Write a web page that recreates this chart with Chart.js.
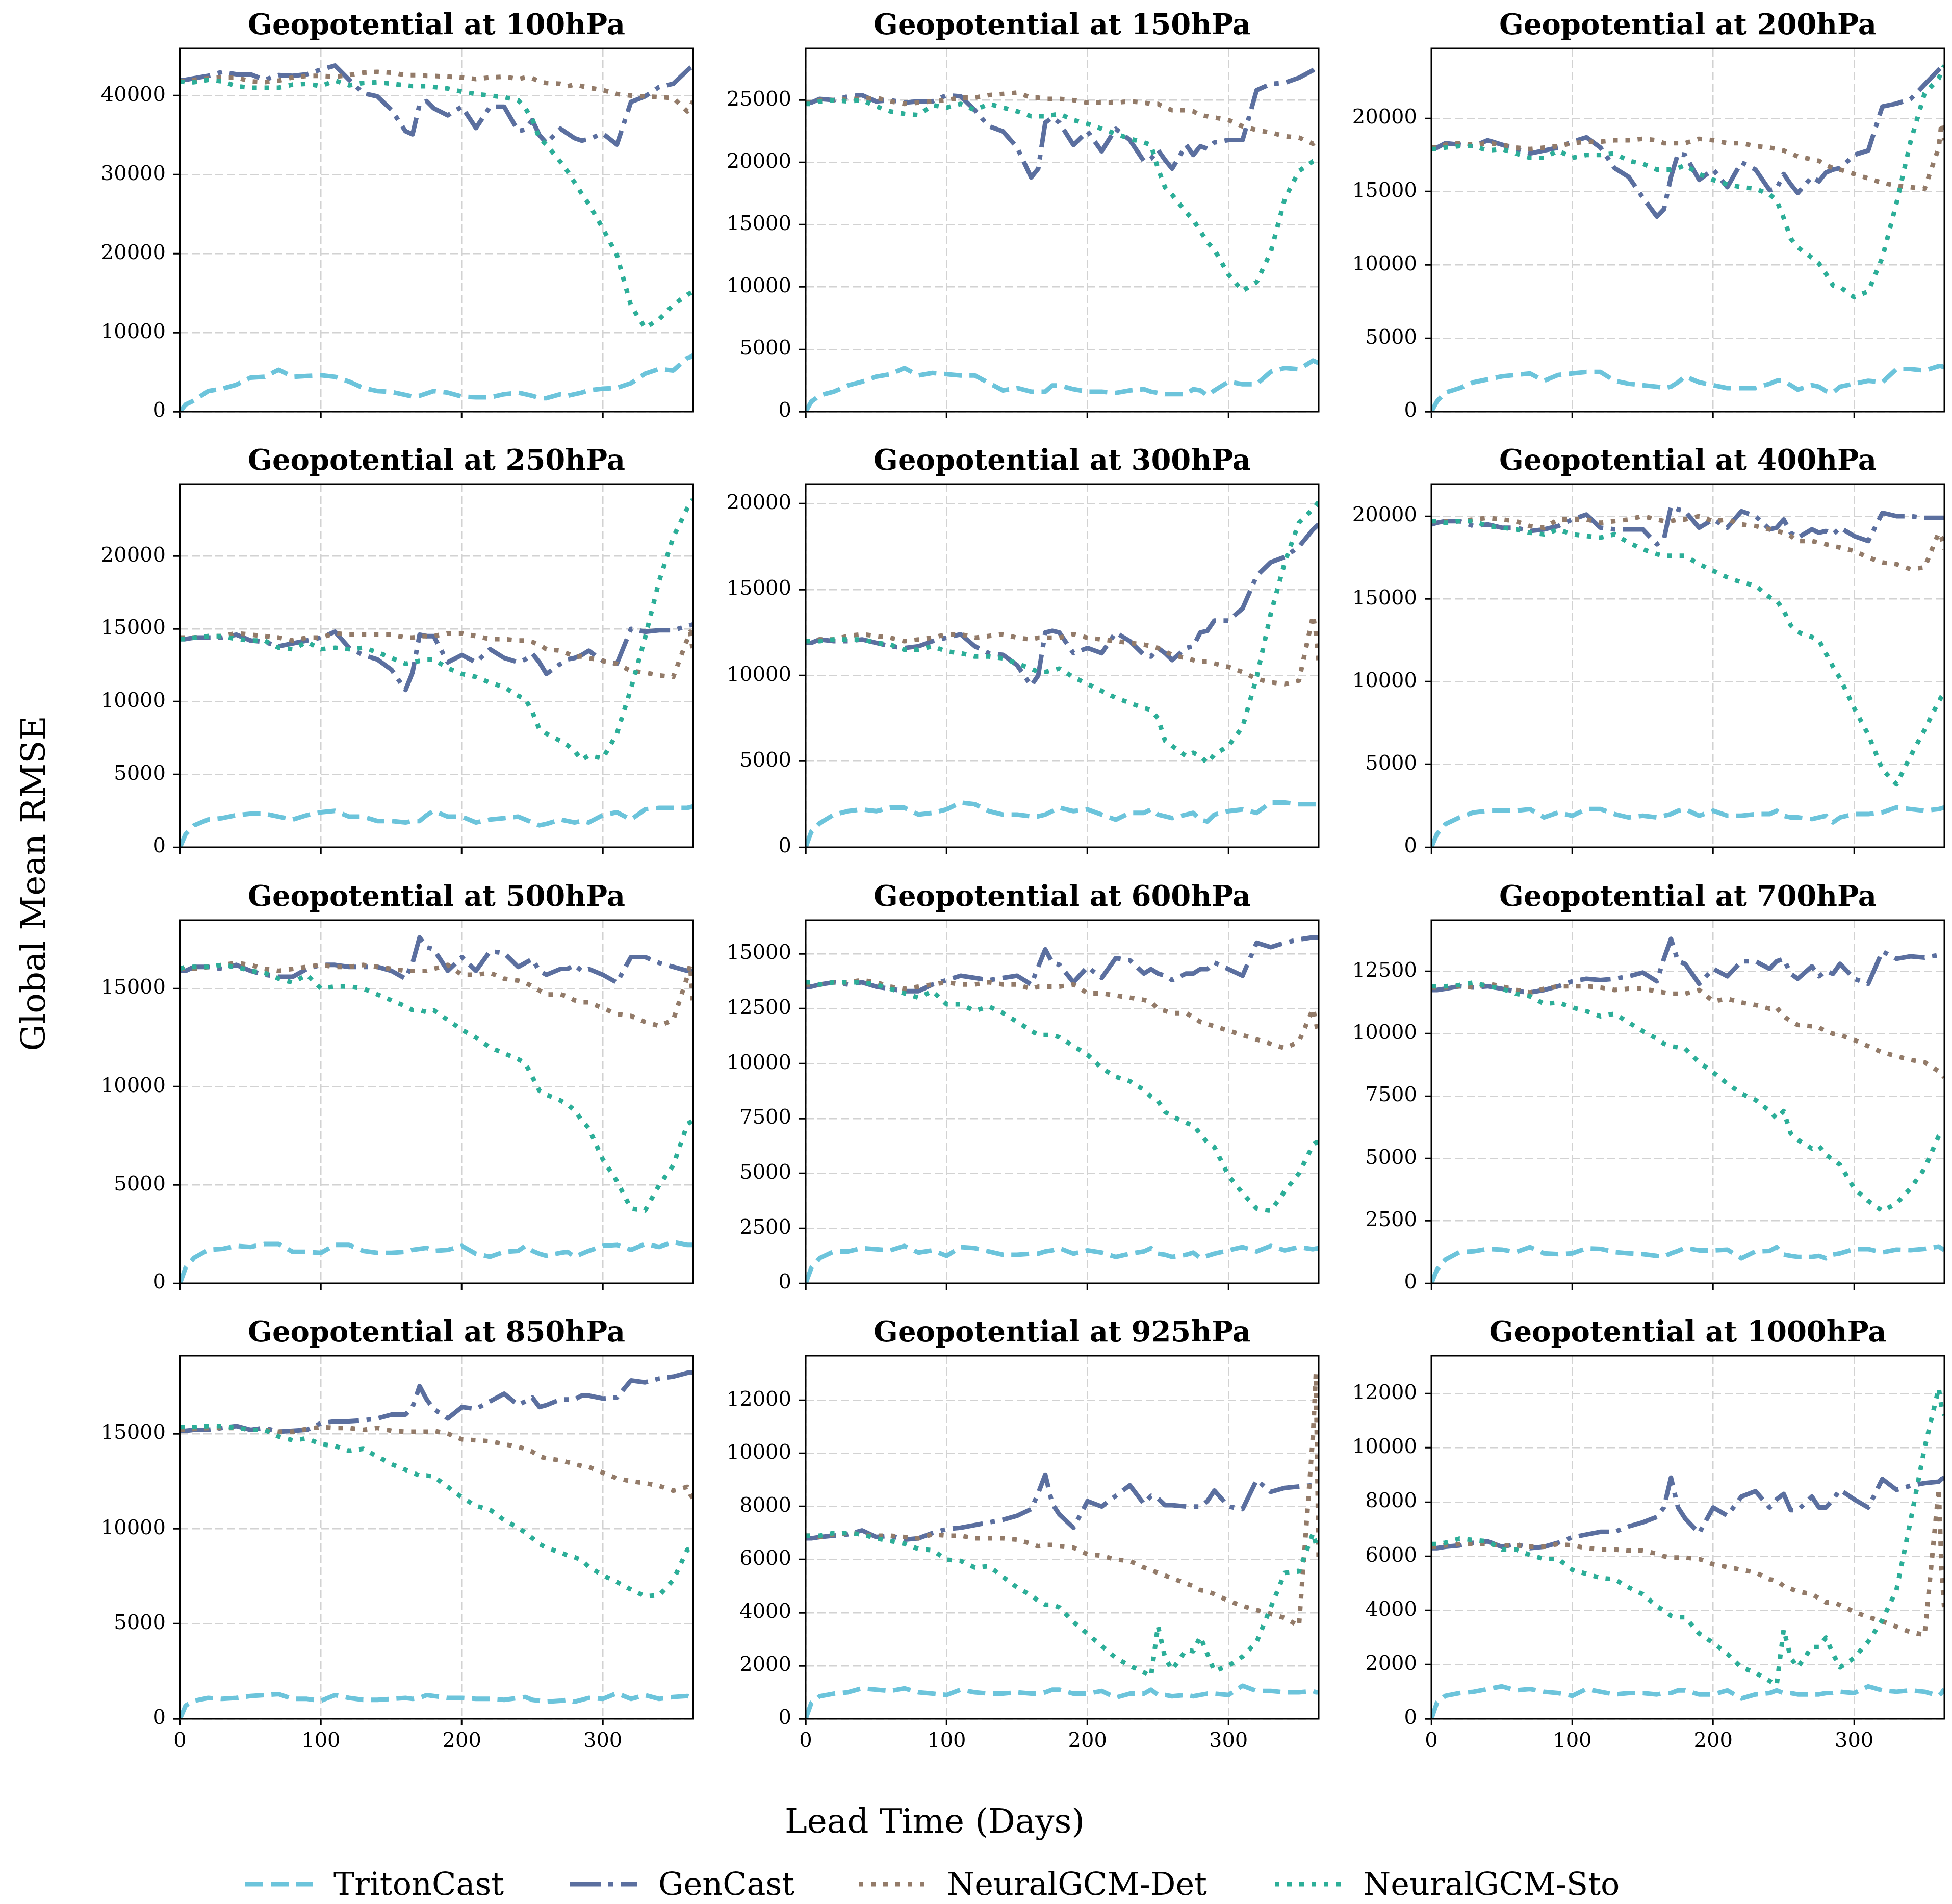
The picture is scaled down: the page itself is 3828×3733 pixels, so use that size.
<!DOCTYPE html>
<html>
<head>
<meta charset="utf-8">
<script src="https://cdn.jsdelivr.net/npm/chart.js@4.4.1/dist/chart.umd.min.js"></script>
<style>
html,body{margin:0;padding:0;background:#fff;}
#fig{position:relative;width:3828px;height:3733px;background:#fff;overflow:hidden;}
#fig canvas{position:absolute;}
.lbl{position:absolute;font-family:'DejaVu Serif',serif;color:#000;white-space:nowrap;line-height:1;}
</style>
</head>
<body>
<div id="fig"></div>
<script>
// ---------------- DATA ----------------
const DAYS = [0,4,10,20,30,40,50,60,70,80, 90,100,110,120,130,140,150,160,165,170, 175,180,190,200,210,220,230,240,245,250, 255,260,270,275,280,285,290,300,310,320, 330,340,350,360,362,364];
const LEVELS = [100,150,200,250,300,400,500,600,700,850,925,1000];
const SERIES_NAMES = ['TritonCast','GenCast','NeuralGCM-Det','NeuralGCM-Sto'];
const Y_MAX = [45970,29150,24760,24950,21150,21940,18480,16530,14550,19100,13680,13400];
const Y_STEP = [10000,5000,5000,5000,5000,5000,5000,2500,2500,5000,2000,2000];
const X_TICKS = [0,100,200,300];

// 100 hPa
const tri100 = [0,900,1400,2600,2900,3400,4300,4400,5300,4400, 4500,4600,4400,3800,3000,2600,2500,2100,1900,2000, 2300,2600,2400,1900,1800,1800,2200,2400,2200,2000, 1700,1700,2200,2000,2200,2400,2700,2900,3000,3600, 4800,5400,5200,6800,6900,7100];
const gen100 = [42000,42000,42200,42500,43000,42700,42700,42000,42600,42500, 42700,43300,43800,42000,40300,39900,38200,35500,35100,38900, 39300,38400,37500,38600,35900,38600,38600,35500,35700,36900, 35000,34000,35800,35200,34600,34300,34500,35200,33800,39200, 39900,41100,41500,43200,43500,43700];
const det100 = [41800,41900,42000,42200,42300,42300,41800,41700,41900,42300, 42500,42500,42400,42600,42900,43000,42900,42600,42600,42600, 42500,42500,42400,42300,42100,42300,42400,42100,42300,42200, 41800,41600,41500,41200,41400,41200,41000,40700,40200,40000, 39900,39800,39700,38000,38500,39300];
const sto100 = [41800,41700,41700,42000,41800,41200,41000,41000,41000,41400, 41500,41200,41900,41300,41600,41700,41500,41300,41200,41200, 41200,41100,40900,40500,40200,40000,39800,39400,38400,37000, 34600,33800,31600,30400,29000,27600,26300,23200,19800,13400, 10600,11700,13500,14800,15000,15200];
// 150 hPa
const tri150 = [0,800,1300,1600,2100,2400,2800,3000,3500,2900, 3100,3000,2900,2900,2300,1700,1900,1600,1600,1600, 2100,2100,1800,1600,1600,1500,1700,1800,1600,1500, 1400,1400,1400,1800,1700,1300,1700,2400,2200,2200, 3200,3500,3400,4100,4000,3900];
const gen150 = [24800,24800,25100,25000,25300,25400,24900,25000,24800,24900, 24900,25400,25300,24200,22900,22500,21200,18800,19500,23200, 23600,23200,21400,22500,20900,22700,21800,20100,20300,21000, 20200,19500,21400,20600,21300,21100,21600,21800,21800,25800, 26300,26400,26800,27400,27600,27800];
const det150 = [24800,24800,25000,25000,25100,25100,25200,24900,24700,24800, 24900,25000,25200,25200,25400,25500,25600,25200,25200,25100, 25100,25100,25000,24800,24800,24800,24900,24800,24700,24700, 24400,24200,24200,24100,23800,23700,23600,23400,22900,22600, 22400,22100,22000,21500,21700,21900];
const sto150 = [24700,24700,24900,25000,24900,25000,24500,24100,23900,23800, 24600,24400,24700,24200,24700,24400,24100,23700,23700,23700, 23800,23900,23400,23100,22700,22300,21900,21600,21400,19500, 18000,17400,16000,15400,14500,13600,13000,11000,9700,10400, 12800,17100,19300,20100,20200,20200];
// 200 hPa
const tri200 = [0,700,1300,1600,2000,2200,2400,2500,2600,2100, 2500,2600,2700,2700,2100,1900,1800,1700,1600,1700, 2000,2400,2000,1800,1600,1600,1600,1900,2100,2100, 1800,1500,1800,1700,1400,1300,1700,1900,2100,2000, 2900,2900,2800,3100,3100,3000];
const gen200 = [18000,18000,18300,18200,18100,18500,18200,17900,17600,17800, 18000,18400,18700,18000,16600,16000,14600,13300,13800,16000, 17600,17500,15800,16500,15300,17000,16500,15100,15200,16200, 15500,14900,16000,15700,16300,16500,16600,17500,17800,20800, 21000,21300,22300,23300,23500,23600];
const det200 = [18000,18000,18200,18300,18200,18300,18200,18000,17900,18000, 18100,18300,18400,18400,18500,18500,18600,18500,18300,18300, 18300,18300,18600,18500,18300,18300,18100,18000,17900,17800, 17600,17400,17200,17100,16800,16600,16500,16200,15900,15600, 15400,15300,15200,18000,19700,18500];
const sto200 = [17900,17900,18000,18100,18100,17800,17900,17600,17300,17300, 17800,17300,17500,17500,17600,17100,16900,16500,16500,16500, 16600,16800,16200,15800,15500,15300,15200,14800,14400,13200, 11800,11200,10500,10100,9400,8600,8500,7800,8200,10500, 14200,18400,21700,22700,23200,23600];
// 250 hPa
const tri250 = [0,900,1500,1900,2000,2200,2300,2300,2100,1900, 2200,2400,2500,2100,2100,1800,1800,1700,1800,1800, 2200,2500,2100,2100,1700,1900,2000,2100,1900,1700, 1500,1600,1900,1800,1700,1800,1700,2200,2400,1900, 2600,2700,2700,2700,2750,2800];
const gen250 = [14300,14300,14400,14400,14400,14600,14200,14100,13800,14000, 14200,14400,14800,13700,13200,12900,12200,10800,12000,14600, 14500,14500,12700,13200,12700,13600,13000,12700,12900,13300, 12700,11900,12600,12900,13000,13200,13500,12800,12600,15000, 14800,14900,14900,15200,15250,15300];
const det250 = [14400,14400,14400,14500,14500,14700,14600,14500,14400,14200, 14400,14400,14700,14600,14600,14600,14600,14400,14400,14500, 14500,14500,14700,14700,14500,14300,14300,14200,14200,14100, 13900,13600,13500,13300,13100,13100,13000,12800,12600,12100, 12000,11800,11700,14300,14800,13400];
const sto250 = [14300,14300,14400,14500,14500,14300,14200,14200,13700,13600, 14100,13600,13700,13600,13700,13400,13000,12600,12700,12800, 12900,12900,12300,11900,11700,11300,11000,10400,10200,9300, 8100,7800,7300,7000,6600,6000,6300,6100,7800,10900, 14400,18300,21300,23300,23600,23900];
// 300 hPa
const tri300 = [0,900,1400,1900,2100,2200,2100,2300,2300,1900, 2000,2200,2600,2500,2100,1900,1900,1800,1800,1900, 2100,2300,2100,2200,1900,1600,2000,2000,2200,1900, 1800,1700,1900,2000,1600,1500,1900,2100,2200,2000, 2600,2600,2500,2500,2500,2500];
const gen300 = [11900,11900,12100,12000,12000,12100,11900,11700,11600,11700, 12000,12200,12400,11700,11300,11200,10600,9400,10000,12500, 12600,12500,11300,11600,11300,12500,12000,11200,11100,11600, 11300,10900,11600,11700,12500,12600,13200,13200,13900,15800, 16600,16900,17500,18500,18650,18800];
const det300 = [12000,12000,12100,12100,12300,12400,12300,12200,12000,12100, 12200,12400,12400,12200,12300,12400,12200,12100,12200,12200, 12200,12200,12400,12200,12100,12000,11900,11800,11700,11600, 11400,11200,11000,10900,10800,10800,10700,10500,10200,9800, 9600,9500,9700,13500,12500,10800];
const sto300 = [12000,12000,12000,12100,12100,12100,11900,11800,11500,11500, 11700,11400,11300,11100,11100,11000,10700,10400,10200,10200, 10300,10400,9900,9500,9100,8700,8400,8100,8000,7500, 6200,5900,5300,5500,5300,4900,5400,5900,7000,9900, 13600,16600,18900,19700,19900,20100];
// 400 hPa
const tri400 = [0,800,1400,1800,2100,2200,2200,2200,2300,1800, 2100,1900,2300,2300,2000,1800,1900,1800,1900,2000, 2200,2300,1900,2200,1900,1900,2000,2000,2200,1900, 1800,1800,1700,1800,1900,1500,1800,2000,2000,2100, 2400,2300,2200,2300,2350,2400];
const gen400 = [19500,19600,19700,19700,19400,19500,19300,19300,19100,19200, 19400,19800,20100,19300,19200,19200,19200,18300,18600,20600, 20400,20300,19300,19800,19300,20300,20000,19200,19300,19800, 19000,18700,19200,19000,19100,18900,19300,18800,18500,20200, 20000,20000,19900,19900,19900,19900];
const det400 = [19700,19700,19700,19700,19800,19900,19800,19700,19400,19300, 19800,19800,19800,19600,19700,19800,20000,19800,19700,19700, 19800,19800,20000,19700,19800,19500,19400,19200,19100,19000, 18800,18500,18500,18400,18300,18200,18100,17900,17500,17200, 17100,16800,16900,19000,18700,18000];
const sto400 = [19700,19700,19600,19700,19700,19400,19300,19200,19000,18900, 19200,18900,18800,18700,18900,18400,18000,17700,17600,17600, 17600,17600,17100,16700,16300,16000,15800,15100,14900,14300, 13400,13000,12700,12500,11700,10900,10200,8400,6800,4700, 3800,5500,7100,8800,9100,9300];
// 500 hPa
const tri500 = [0,800,1300,1700,1750,1900,1850,2000,2000,1600, 1600,1550,1950,1950,1650,1550,1550,1600,1700,1750, 1800,1650,1700,1900,1500,1350,1600,1650,1900,1650, 1500,1400,1550,1600,1350,1500,1650,1900,1950,1700, 2000,1850,2100,1950,1950,1950];
const gen500 = [15900,15900,16100,16100,16000,16200,15900,15700,15600,15600, 16000,16200,16200,16100,16100,16100,15900,15500,16300,17600, 17100,17000,15900,16600,15900,16900,16800,16100,16300,16500, 15900,15700,16000,16000,16200,15900,16000,15700,15300,16600, 16600,16300,16100,15900,15900,15900];
const det500 = [16000,16000,16000,16100,16200,16300,16200,16000,15900,16000, 16100,16200,16100,16100,16200,16100,16000,15900,15900,15900, 15900,16000,16200,15700,15700,15800,15500,15400,15300,15100, 14900,14700,14700,14600,14400,14300,14300,14000,13700,13600, 13300,13100,13400,15600,16200,14200];
const sto500 = [16000,16100,16100,16100,16200,16100,15900,15800,15500,15300, 15700,15000,15100,15100,15000,14700,14400,14100,13900,13900, 13800,13900,13400,12900,12500,12000,11700,11400,11200,10500, 9800,9600,9300,9100,8800,8300,7900,6300,5200,3800, 3700,5000,6000,8100,8200,8300];
// 600 hPa
const tri600 = [0,700,1150,1450,1450,1600,1550,1500,1700,1400, 1500,1250,1650,1600,1450,1300,1300,1350,1350,1450, 1500,1600,1350,1500,1400,1200,1350,1450,1600,1350, 1300,1200,1300,1400,1150,1250,1350,1500,1650,1450, 1700,1500,1650,1550,1580,1600];
const gen600 = [13500,13500,13600,13700,13600,13700,13500,13400,13300,13300, 13600,13800,14000,13900,13800,13900,14000,13600,14400,15200, 14600,14500,13700,14400,13900,14800,14700,14100,14300,14100, 14000,13800,14100,14100,14300,14300,14600,14300,14000,15500, 15300,15500,15650,15750,15750,15750];
const det600 = [13600,13600,13600,13700,13700,13800,13700,13500,13400,13500, 13600,13700,13600,13600,13700,13600,13600,13400,13500,13500, 13500,13500,13600,13200,13200,13100,13000,12900,12800,12500, 12400,12300,12300,12100,11900,11800,11700,11500,11300,11100, 10900,10700,11000,12500,11900,11300];
const sto600 = [13700,13700,13600,13700,13700,13700,13600,13400,13200,13000, 13300,12700,12700,12400,12600,12300,11900,11500,11300,11300, 11300,11200,10800,10400,9800,9400,9200,8800,8500,8300, 7800,7600,7300,7200,6800,6400,6200,4900,4100,3400, 3300,4200,5000,6300,6400,6400];
// 700 hPa
const tri700 = [0,550,950,1250,1280,1380,1350,1250,1450,1200, 1170,1200,1400,1380,1250,1200,1170,1100,1080,1200, 1300,1420,1320,1320,1350,1000,1280,1300,1450,1150, 1100,1060,1060,1100,1000,1150,1200,1370,1370,1240, 1350,1330,1380,1470,1400,1330];
const gen700 = [11750,11750,11800,11900,11850,11900,11800,11700,11650,11750, 11900,12100,12200,12150,12200,12300,12450,12100,13000,13800, 12900,12800,12000,12600,12300,12900,12900,12600,12900,13000, 12400,12200,12700,12300,12500,12400,12800,12200,12000,13300, 13000,13100,13050,13150,13200,13200];
const det700 = [11850,11850,11850,11900,11850,12000,11900,11750,11650,11800, 11900,11900,11900,11850,11750,11800,11800,11700,11650,11600, 11600,11600,11750,11300,11400,11250,11150,11000,11050,10700, 10500,10350,10300,10250,10100,10000,9950,9750,9500,9250, 9100,8950,8850,8500,8400,8250];
const sto700 = [11900,11900,11900,11950,12050,11900,11800,11600,11500,11200, 11250,11050,10900,10700,10800,10450,10100,9800,9600,9500, 9450,9400,8850,8450,8000,7600,7350,6900,6600,6900, 6000,5750,5400,5500,5150,4950,4750,3800,3300,2900, 3200,3800,4600,5900,6000,6100];
// 850 hPa
const tri850 = [0,700,950,1100,1050,1100,1200,1250,1300,1050, 1050,950,1250,1100,1000,1000,1050,1100,1050,1100, 1250,1200,1100,1100,1050,1050,1000,1100,1150,1000, 950,900,950,1000,900,1000,1100,1050,1350,1050, 1250,1050,1150,1200,1150,1100];
const gen850 = [15150,15150,15200,15200,15300,15400,15200,15300,15100,15150, 15200,15550,15650,15650,15700,15800,16000,16000,16400,17500, 16800,16300,15800,16400,16300,16700,17100,16500,16700,16900, 16400,16500,16800,16800,16800,17000,17000,16850,16900,17800, 17700,17900,18000,18200,18200,18200];
const det850 = [15200,15200,15250,15300,15300,15300,15200,15200,15100,15100, 15250,15350,15300,15300,15200,15300,15150,15100,15100,15100, 15100,15150,15000,14700,14650,14600,14450,14300,14200,14050, 13800,13700,13600,13500,13400,13300,13250,12950,12650,12500, 12400,12250,12000,12200,11800,11600];
const sto850 = [15350,15350,15350,15400,15400,15300,15200,15200,14850,14650, 14750,14450,14350,14100,14200,13800,13400,13100,12950,12800, 12800,12750,12200,11650,11200,11000,10450,10050,9800,9500, 9200,9000,8750,8600,8500,8350,8000,7550,7200,6800, 6450,6500,7300,8900,8950,9000];
// 925 hPa
const tri925 = [0,600,850,950,1000,1150,1100,1050,1150,1000, 950,900,1100,1000,950,950,1000,950,950,1000, 1100,1100,950,950,1050,800,950,950,1100,900, 900,850,900,850,900,950,950,900,1250,1050, 1050,1000,1000,1050,1000,1000];
const gen925 = [6800,6800,6850,6900,6950,7100,6850,6900,6750,6800, 7000,7150,7200,7300,7400,7500,7650,7900,8500,9200, 8100,7700,7200,8200,8000,8400,8800,8100,8400,8300, 8050,8050,8000,8000,8000,8200,8600,8000,7900,9000, 8550,8700,8750,8800,8800,8800];
const det925 = [6900,6900,6850,6950,7000,6950,6900,6900,6850,6800, 6950,6900,6900,6800,6800,6800,6750,6600,6500,6550, 6550,6500,6450,6200,6150,6000,5950,5700,5600,5500, 5400,5300,5100,5000,4850,4800,4700,4450,4250,4100, 3950,3800,3500,10700,13000,6000];
const sto925 = [6900,6900,6900,7000,7000,6950,6800,6700,6600,6400, 6350,6000,5950,5700,5750,5350,4950,4650,4450,4300, 4300,4200,3650,3200,2750,2300,2000,1750,1600,3500, 2300,1850,2600,2550,3100,2450,1800,2000,2350,2900, 4200,5500,5550,7000,6600,6500];
// 1000 hPa
const tri1000 = [0,600,850,950,1000,1100,1200,1050,1100,1000, 950,850,1100,1000,900,950,950,900,950,950, 1050,1050,900,900,1050,750,900,950,1050,950, 950,900,900,900,950,950,1000,950,1200,1050, 1000,1050,1000,850,950,1100];
const gen1000 = [6300,6300,6350,6400,6500,6550,6350,6450,6300,6350, 6500,6700,6800,6900,6900,7100,7250,7450,7800,8900, 7800,7400,6850,7800,7500,8200,8400,7800,8100,8300, 7700,7700,8200,7800,7800,8100,8450,8100,7800,8850, 8450,8600,8700,8750,8850,8900];
const det1000 = [6350,6350,6400,6450,6450,6450,6400,6400,6350,6350, 6450,6400,6300,6250,6250,6200,6200,6100,6000,5950, 5950,5950,5900,5700,5600,5500,5400,5150,5100,4900, 4800,4700,4600,4450,4300,4300,4200,3950,3750,3600, 3400,3200,3100,8500,5500,4000];
const sto1000 = [6450,6450,6500,6650,6600,6550,6250,6250,6050,5900, 5900,5500,5350,5200,5150,4850,4600,4150,4000,3800, 3750,3750,3150,2800,2400,1900,1700,1400,1250,3300, 2250,1900,2650,2650,3000,2400,1900,2250,2850,3650, 4750,7300,10000,12200,11500,11200];

const TRITONCAST = [tri100,tri150,tri200,tri250,tri300,tri400,tri500,tri600,tri700,tri850,tri925,tri1000];
const GENCAST = [gen100,gen150,gen200,gen250,gen300,gen400,gen500,gen600,gen700,gen850,gen925,gen1000];
const NGCM_DET = [det100,det150,det200,det250,det300,det400,det500,det600,det700,det850,det925,det1000];
const NGCM_STO = [sto100,sto150,sto200,sto250,sto300,sto400,sto500,sto600,sto700,sto850,sto925,sto1000];

// ---------------- STYLE / LAYOUT ----------------
const FONT = "'DejaVu Serif', serif";
const STYLE = [
  {color:'#6CC4DB', dash:[35,15]},
  {color:'#5B6F9F', dash:[60,15,9,15]},
  {color:'#937B69', dash:[9,15]},
  {color:'#2CAE98', dash:[9,15]}
];
const LINE_W = 9;
const COL_LEFT = [353,1580,2807], ROW_TOP = [95,949,1804,2658];
const PW = 1006, PH = 712, LP = 200, TP = 80, RP = 10;

const framePlugin = {
  id:'frame',
  afterDatasetsDraw(chart){
    const {ctx, chartArea:a} = chart;
    ctx.save();
    ctx.strokeStyle = '#000';
    ctx.lineWidth = 3;
    ctx.setLineDash([]);
    ctx.strokeRect(a.left, a.top, a.right - a.left, a.bottom - a.top);
    ctx.restore();
  }
};

function yTickValues(k) {
  const out = [];
  for (let v = 0; v <= Y_MAX[k] + 1e-6; v += Y_STEP[k]) out.push({value: v});
  return out;
}

const fig = document.getElementById('fig');

LEVELS.forEach((lev, k) => {
  const r = Math.floor(k / 3), c = k % 3;
  const BP = r === 3 ? 90 : 24;
  const w = LP + PW + RP, h = TP + PH + BP;
  const cv = document.createElement('canvas');
  cv.width = w; cv.height = h;
  cv.style.left = (COL_LEFT[c] - LP) + 'px';
  cv.style.top = (ROW_TOP[r] - TP) + 'px';
  cv.style.width = w + 'px'; cv.style.height = h + 'px';
  fig.appendChild(cv);

  const seriesVals = [TRITONCAST[k], GENCAST[k], NGCM_DET[k], NGCM_STO[k]];
  const datasets = seriesVals.map((vals, i) => ({
    label: SERIES_NAMES[i],
    data: DAYS.map((d, j) => ({x: d, y: vals[j]})),
    borderColor: STYLE[i].color,
    borderWidth: LINE_W,
    borderDash: STYLE[i].dash,
    borderCapStyle: 'butt',
    borderJoinStyle: 'round',
    pointRadius: 0,
    pointHoverRadius: 0,
    fill: false,
    tension: 0,
    clip: 0,
    order: 3 - i
  }));

  const gridCommon = {
    color: '#d2d2d2',
    lineWidth: 2.5,
    drawTicks: true,
    tickLength: 13,
    tickColor: '#000',
    tickWidth: 3,
    tickBorderDash: []
  };

  new Chart(cv, {
    type: 'line',
    data: {datasets},
    options: {
      responsive: false,
      animation: false,
      devicePixelRatio: 1,
      events: [],
      layout: {padding: {left: 0, right: RP, top: 0, bottom: 0}},
      plugins: {
        legend: {display: false},
        tooltip: {enabled: false},
        title: {
          display: true,
          text: 'Geopotential at ' + lev + 'hPa',
          fullSize: false,
          color: '#000',
          font: {family: FONT, size: 56, weight: 'bold', lineHeight: 1.25},
          padding: {top: 2, bottom: 8}
        }
      },
      scales: {
        x: {
          type: 'linear',
          min: 0, max: 364,
          afterBuildTicks: s => { s.ticks = X_TICKS.map(v => ({value: v})); },
          ticks: {
            autoSkip: false, maxRotation: 0, minRotation: 0, padding: 8,
            color: '#000', font: {family: FONT, size: 40},
            callback: v => (r === 3 ? String(v) : '')
          },
          grid: gridCommon,
          border: {display: false, dash: [16, 7]},
          afterFit: s => { s.height = BP; s.paddingLeft = 0; s.paddingRight = 0; }
        },
        y: {
          type: 'linear',
          min: 0, max: Y_MAX[k],
          afterBuildTicks: s => { s.ticks = yTickValues(k); },
          ticks: {
            autoSkip: false, padding: 15,
            color: '#000', font: {family: FONT, size: 40},
            callback: v => String(Math.round(v))
          },
          grid: gridCommon,
          border: {display: false, dash: [16, 7]},
          afterFit: s => { s.width = LP; s.paddingTop = 0; s.paddingBottom = 0; }
        }
      }
    },
    plugins: [framePlugin]
  });
});

// ---------------- FIGURE LABELS & LEGEND ----------------
function addLabel(text, css) {
  const d = document.createElement('div');
  d.className = 'lbl';
  d.textContent = text;
  Object.assign(d.style, css);
  fig.appendChild(d);
  return d;
}
addLabel('Global Mean RMSE', {left:'66px', top:'1732px', fontSize:'66px', transform:'translate(-50%,-50%) rotate(-90deg)'});
addLabel('Lead Time (Days)', {left:'1833px', top:'3571px', fontSize:'66px', transform:'translate(-50%,-50%)'});

const LEG_X = [481, 1118, 1684, 2500];
const LEG_Y = 3694;
SERIES_NAMES.forEach((name, i) => {
  const svgNS = 'http://www.w3.org/2000/svg';
  const svg = document.createElementNS(svgNS, 'svg');
  svg.setAttribute('width', '132');
  svg.setAttribute('height', '20');
  svg.style.position = 'absolute';
  svg.style.left = LEG_X[i] + 'px';
  svg.style.top = (LEG_Y - 10) + 'px';
  const ln = document.createElementNS(svgNS, 'line');
  ln.setAttribute('x1', '0'); ln.setAttribute('y1', '10');
  ln.setAttribute('x2', '132'); ln.setAttribute('y2', '10');
  ln.setAttribute('stroke', STYLE[i].color);
  ln.setAttribute('stroke-width', String(LINE_W));
  ln.setAttribute('stroke-dasharray', STYLE[i].dash.join(' '));
  svg.appendChild(ln);
  fig.appendChild(svg);
  addLabel(name, {left:(LEG_X[i] + 173) + 'px', top: LEG_Y + 'px', fontSize:'62px', transform:'translateY(-50%)'});
});
</script>
</body>
</html>
